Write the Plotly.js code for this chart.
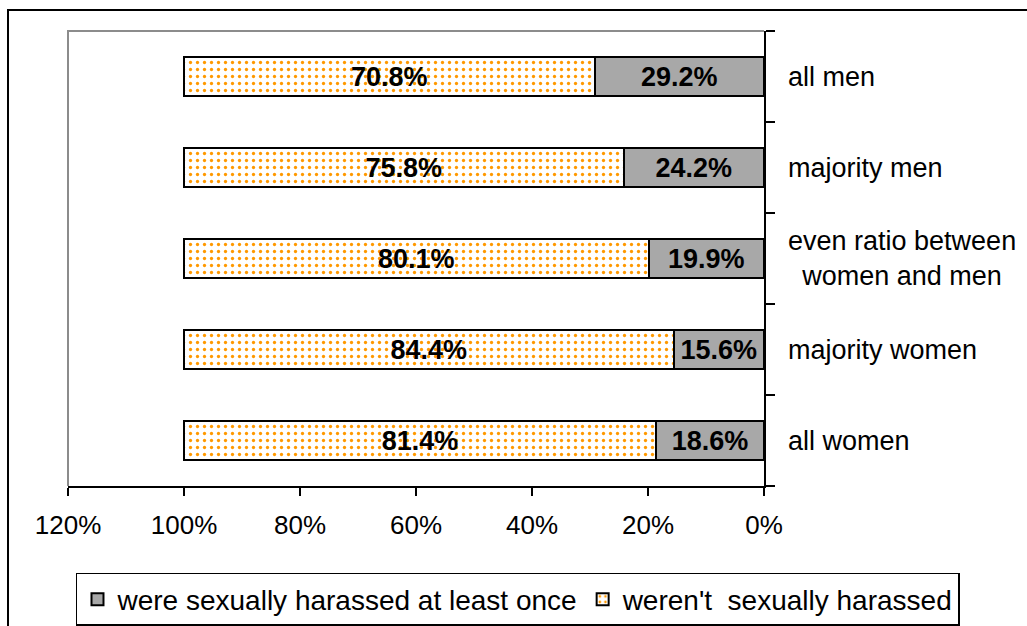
<!DOCTYPE html>
<html>
<head>
<meta charset="utf-8">
<script src="https://cdn.plot.ly/plotly-3.0.1.min.js"></script>
<style>
  html, body { margin: 0; padding: 0; background: #fff; }
  #chart { width: 1027px; height: 626px; }
</style>
</head>
<body>
<div id="chart"></div>
<script>
// Categories, bottom to top
const categories = ['all women', 'majority women', 'even ratio between<br>women and men', 'majority men', 'all men'];
const harassed = [18.6, 15.6, 19.9, 24.2, 29.2];
const notHarassed = [81.4, 84.4, 80.1, 75.8, 70.8];
const seriesNames = ['were sexually harassed at least once', "weren't\u00a0 sexually harassed"];
const xTickVals = [0, 0.2, 0.4, 0.6, 0.8, 1.0, 1.2];
const xTickText = ['0%', '20%', '40%', '60%', '80%', '100%', '120%'];

const FONT = 'Liberation Sans, Arial, sans-serif';

const traces = [
  {
    type: 'bar', orientation: 'h', name: seriesNames[0],
    y: categories, x: harassed.map(v => v / 100),
    text: harassed.map(v => v.toFixed(1) + '%'),
    textposition: 'inside', insidetextanchor: 'middle', constraintext: 'none',
    textfont: { family: FONT, size: 27, color: '#000', weight: 'bold' },
    marker: { color: '#A8A8A8', line: { color: '#000', width: 2 } },
    hoverinfo: 'skip'
  },
  {
    type: 'bar', orientation: 'h', name: seriesNames[1],
    y: categories, x: notHarassed.map(v => v / 100),
    text: notHarassed.map(v => v.toFixed(1) + '%'),
    textposition: 'inside', insidetextanchor: 'middle', constraintext: 'none',
    textfont: { family: FONT, size: 27, color: '#000', weight: 'bold' },
    marker: {
      color: '#ffffff',
      line: { color: '#000', width: 2 },
      pattern: { shape: '.', fgcolor: '#FF9900', bgcolor: '#ffffff', size: 7, solidity: 0.17 }
    },
    hoverinfo: 'skip'
  }
];

const annotations = categories.map(c => ({
  xref: 'paper', yref: 'y', x: c.includes('<br>') ? 1.1983 : 1.0316, y: c,
  xanchor: c.includes('<br>') ? 'center' : 'left', yanchor: 'middle',
  text: c, showarrow: false, align: 'center',
  font: { family: FONT, size: 27, color: '#000' }
}));

const layout = {
  width: 1027, height: 626,
  margin: { l: 68, r: 263, t: 31, b: 140, pad: 0, autoexpand: false },
  paper_bgcolor: '#fff', plot_bgcolor: '#fff',
  barmode: 'stack', bargap: 0.58,
  showlegend: true,
  uniformtext: { minsize: 20, mode: 'show' },
  xaxis: {
    range: [1.2, 0], tickvals: xTickVals, ticktext: xTickText,
    showgrid: false, zeroline: false,
    showline: true, linecolor: '#000', linewidth: 1.5,
    ticks: 'outside', ticklen: 8, tickwidth: 1.5, tickcolor: '#000',
    ticklabelstandoff: 7,
    tickfont: { family: FONT, size: 26, color: '#000' }
  },
  yaxis: {
    type: 'category', categoryorder: 'array', categoryarray: categories,
    range: [-0.5, 4.5], side: 'right',
    showgrid: false, zeroline: false,
    showline: true, linecolor: '#000', linewidth: 1.5,
    ticks: 'outside', tickson: 'boundaries', ticklen: 9, tickwidth: 1.5, tickcolor: '#000',
    showticklabels: false
  },
  legend: {
    orientation: 'h', xref: 'paper', yref: 'paper',
    x: 1.2816, xanchor: 'right', y: -0.1912, yanchor: 'top',
    bordercolor: '#000', borderwidth: 1.5, bgcolor: '#fff',
    font: { family: FONT, size: 28, color: '#000' },
    traceorder: 'normal', itemwidth: 30
  },
  annotations: annotations,
  shapes: [
    { type: 'path', xref: 'paper', yref: 'paper',
      path: 'M -0.0862,-0.32 L -0.0862,1.0462 L 1.40,1.0462',
      line: { color: '#000', width: 2 } },
    { type: 'path', xref: 'paper', yref: 'paper',
      path: 'M 0,0 L 0,1 L 1,1',
      line: { color: '#8c8c8c', width: 2 }, layer: 'below' }
  ]
};

Plotly.newPlot('chart', traces, layout, { displayModeBar: false, staticPlot: true });
</script>
</body>
</html>
